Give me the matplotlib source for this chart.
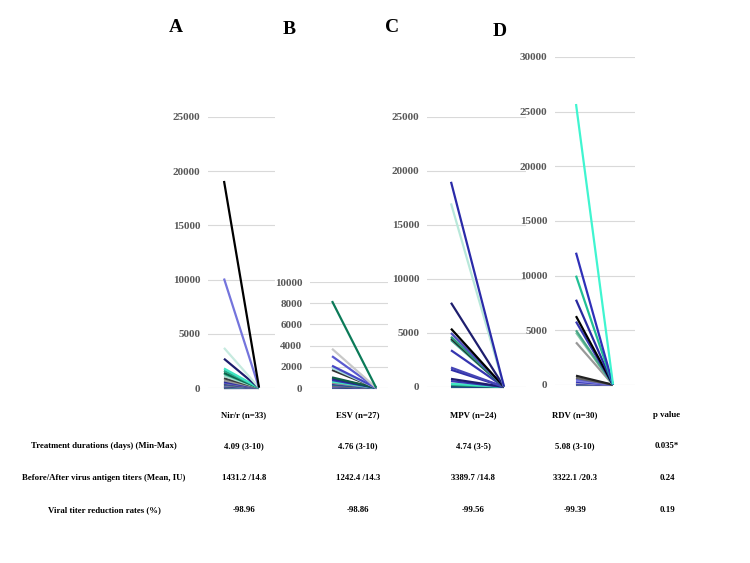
import numpy as np
import matplotlib
matplotlib.use("Agg")
import matplotlib.pyplot as plt

plt.rcParams['font.family'] = ['Liberation Serif', 'DejaVu Serif']

# before / after viral antigen titers (IU) per patient
nir_before = [19100, 10100, 3700, 2700, 1800, 1600, 1400, 1300, 1100, 900, 700, 600, 500,
              450, 400, 350, 300, 250, 200, 180, 150, 120, 100, 90, 80, 60, 50, 40, 30, 20, 15, 10, 5]
nir_after = [40, 30, 25, 20, 20, 15, 15, 15, 15, 15, 15, 15, 15, 15, 15, 15, 15, 15, 15, 15,
             10, 10, 10, 10, 10, 10, 10, 10, 10, 10, 10, 10, 10]
esv_before = [8200, 3700, 3000, 2100, 1900, 1700, 1000, 900, 750, 600, 500, 450, 400, 350,
              300, 250, 200, 180, 150, 120, 100, 80, 60, 40, 30, 20, 10]
esv_after = [30, 25, 20, 20, 15, 15, 15, 15, 15, 15, 15, 15, 15, 15, 10, 10, 10, 10, 10, 10,
             10, 10, 10, 10, 10, 10, 10]
mpv_before = [19000, 17000, 7800, 5400, 5000, 4650, 4500, 4350, 3400, 1800, 1600, 750, 550,
              300, 200, 150, 100, 80, 60, 50, 40, 30, 20, 10]
mpv_after = [40, 30, 25, 20, 20, 15, 15, 15, 15, 15, 15, 10, 10, 10, 10, 10, 10, 10, 10, 10,
             10, 10, 10, 10]
rdv_before = [25700, 12100, 10000, 7800, 6300, 5800, 5000, 4800, 3900, 850, 650, 550, 400,
              300, 250, 200, 180, 150, 120, 100, 90, 80, 70, 60, 50, 40, 30, 20, 15, 10]
rdv_after = [60, 40, 35, 30, 30, 25, 25, 20, 20, 20, 20, 20, 20, 15, 15, 15, 15, 15, 15, 15,
             15, 15, 15, 15, 15, 10, 10, 10, 10, 10]

panel_letters = ['A', 'B', 'C', 'D']
col_headers = ['Nir/r (n=33)', 'ESV (n=27)', 'MPV (n=24)', 'RDV (n=30)', 'p value']
row_labels = ['Treatment durations (days) (Min-Max)',
              'Before/After virus antigen titers (Mean, IU)',
              'Viral titer reduction rates (%)']
durations = ['4.09 (3-10)', '4.76 (3-10)', '4.74 (3-5)', '5.08 (3-10)', '0.035*']
mean_titers = ['1431.2 /14.8', '1242.4 /14.3', '3389.7 /14.8', '3322.1 /20.3', '0.24']
reduction = ['-98.96', '-98.86', '-99.56', '-99.39', '0.19']

# colours, one per line (largest titer first)
c_nir = ['#000000', '#7474dc', '#c6eadf', '#1d1d6c', '#3fe6c3', '#25a584', '#0f5e48', '#2bb08c',
         '#a8dccf', '#3c3c3c', '#999999', '#2a2a9a', '#4f4fc4', '#8c8c8c', '#1d1d6c', '#6a6ad0',
         '#10604a', '#b0b0b0', '#2e2eb0', '#404040', '#8080e0', '#1d1d6c', '#3fe6c3', '#999999',
         '#2e2eb0', '#10604a', '#555555', '#6a6ad0', '#1d1d6c', '#2e2eb0', '#999999', '#1d1d6c', '#2e2eb0']
c_esv = ['#0b7a58', '#c8c8c8', '#5a5ad0', '#4646c4', '#a8dde0', '#333333', '#0f5e48', '#22228a',
         '#3333aa', '#3fe6c3', '#8c8c8c', '#6a6ad0', '#1d1d6c', '#25a584', '#2e2eb0', '#999999',
         '#404040', '#4f4fc4', '#a0a0e8', '#1d1d6c', '#2e2eb0', '#10604a', '#8080e0', '#555555',
         '#2a2a9a', '#1d1d6c', '#a0a0e8']
c_mpv = ['#2a2aa8', '#b8e8da', '#1e1e6e', '#000000', '#5050c0', '#2a9a78', '#222222', '#40a890',
         '#3535b0', '#4545b5', '#3030a8', '#1e1e6e', '#3535b0', '#3fe6c3', '#25a584', '#10604a',
         '#2a2aa8', '#1d1d6c', '#25a584', '#3535b0', '#10604a', '#1e1e6e', '#2a9a78', '#10604a']
c_rdv = ['#40f5d0', '#3030b8', '#22c095', '#2a2aa0', '#000000', '#3838b0', '#4aa888', '#88c8a8',
         '#999999', '#222222', '#666666', '#6060d0', '#8080e0', '#3030b8', '#a0a0e8', '#999999',
         '#1d1d6c', '#6a6ad0', '#2e2eb0', '#8c8c8c', '#4f4fc4', '#25a584', '#1d1d6c', '#999999',
         '#6a6ad0', '#2e2eb0', '#8080e0', '#555555', '#1d1d6c', '#999999']

W, H = 750, 563
fig = plt.figure(figsize=(7.5, 5.63), dpi=100)


def px_axes(x0, x1, ytop, ybot):
    return fig.add_axes([x0 / W, 1 - ybot / H, (x1 - x0) / W, (ybot - ytop) / H])


panels = [
    (nir_before, nir_after, c_nir, (208, 275, 117, 388), (-0.457, 1.457), 25000, 5000),
    (esv_before, esv_after, c_esv, (310, 388, 282, 388), (-0.5, 1.27), 10000, 2000),
    (mpv_before, mpv_after, c_mpv, (427, 526, 117, 387), (-0.453, 1.415), 25000, 5000),
    (rdv_before, rdv_after, c_rdv, (555, 635, 57, 385), (-0.568, 1.595), 30000, 5000),
]

for before, after, cols, box, xl, ymax, step in panels:
    ax = px_axes(*box)
    for i in range(len(before) - 1, -1, -1):
        ax.plot([0, 1], [before[i], after[i]], color=cols[i], lw=1.6,
                solid_capstyle='butt', clip_on=False, zorder=3)
    ax.set_xlim(*xl)
    ax.set_ylim(0, ymax)
    ax.set_yticks(np.arange(0, ymax + 1, step))
    ax.set_xticks([])
    ax.grid(axis='y', color='#d9d9d9', lw=0.8)
    ax.set_axisbelow(True)
    for s in ax.spines.values():
        s.set_visible(False)
    ax.tick_params(axis='y', length=0, pad=5.5, labelsize=8, labelcolor='#595959')
    for lab in ax.get_yticklabels():
        lab.set_fontweight('bold')

# panel letters
for letter, (x, y) in zip(panel_letters, [(176, 28), (289, 30), (392, 28), (500, 31)]):
    fig.text(x / W, 1 - y / H, letter, ha='center', va='center', fontsize=14, fontweight='bold')

# table below the panels
col_x = [244, 358, 473, 575, 667]
for x, t in zip(col_x, col_headers):
    fig.text(x / W, 1 - 415 / H, t, ha='center', va='center', fontsize=6.3, fontweight='bold')

row_y = [446, 478, 510]
for y, lab, vals in zip(row_y, row_labels, [durations, mean_titers, reduction]):
    fig.text(104 / W, 1 - y / H, lab, ha='center', va='center', fontsize=6.3, fontweight='bold')
    for x, v in zip(col_x, vals):
        fig.text(x / W, 1 - y / H, v, ha='center', va='center', fontsize=6.3, fontweight='bold')

fig.savefig('out.png', dpi=100)
